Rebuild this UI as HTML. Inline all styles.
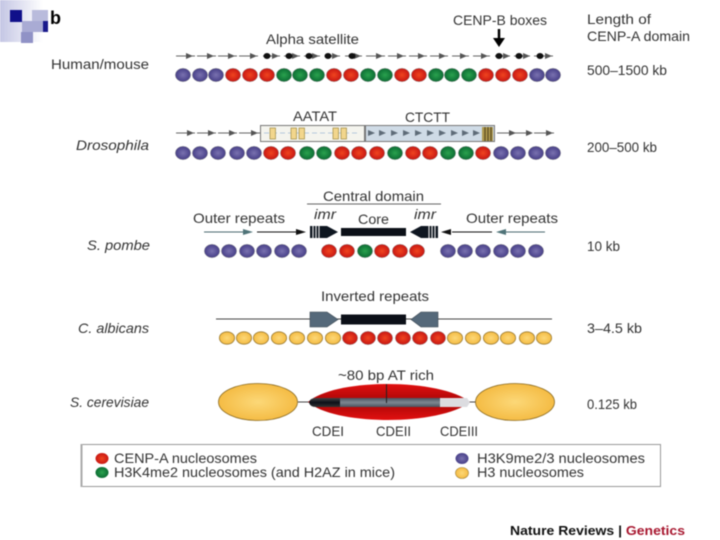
<!DOCTYPE html>
<html><head><meta charset="utf-8"><style>
html,body{margin:0;padding:0;background:#fff;width:720px;height:540px;overflow:hidden}
svg{display:block;filter:blur(.5px)}
text{font-family:"Liberation Sans",sans-serif;font-size:14px;fill:#333}
.i{font-style:italic}
.l{stroke:#666;stroke-width:1;fill:none}
.a{fill:#555}
</style></head><body>
<svg width="720" height="540" viewBox="0 0 720 540" xmlns="http://www.w3.org/2000/svg">
<defs>
<radialGradient id="P" cx=".5" cy=".5" r=".6"><stop offset="0" stop-color="#7a72b0"/><stop offset="1" stop-color="#3d3580"/></radialGradient>
<radialGradient id="R" cx=".5" cy=".5" r=".6"><stop offset="0" stop-color="#f0451f"/><stop offset="1" stop-color="#c00d10"/></radialGradient>
<radialGradient id="G" cx=".5" cy=".5" r=".6"><stop offset="0" stop-color="#2aa24e"/><stop offset="1" stop-color="#06622e"/></radialGradient>
<radialGradient id="Y" cx=".5" cy=".5" r=".6"><stop offset="0" stop-color="#fcd878"/><stop offset="1" stop-color="#f3b63a"/></radialGradient>
<linearGradient id="cor" x1="0" x2="1" y1="0" y2="0"><stop offset="0" stop-color="#c4c6e4"/><stop offset="1" stop-color="#fff"/></linearGradient>
<linearGradient id="red" x1="0" x2="0" y1="0" y2="1"><stop offset="0" stop-color="#e21010"/><stop offset=".5" stop-color="#a80606"/><stop offset="1" stop-color="#e21010"/></linearGradient>
<linearGradient id="bar" x1="0" x2="0" y1="0" y2="1"><stop offset="0" stop-color="#444"/><stop offset=".5" stop-color="#0c1018"/><stop offset="1" stop-color="#333"/></linearGradient>
<linearGradient id="gbar" x1="0" x2="0" y1="0" y2="1"><stop offset="0" stop-color="#4a5460"/><stop offset=".5" stop-color="#7e8792"/><stop offset="1" stop-color="#4a5460"/></linearGradient>
</defs>

<!-- corner decoration -->
<rect x="0" y="0" width="43" height="42" fill="url(#cor)"/>
<rect x="32" y="10" width="16" height="11" fill="#b9bbdc"/>
<rect x="22" y="21" width="21" height="11" fill="#a9abd4"/>
<rect x="43" y="21" width="5" height="11" fill="#1a1a8c"/>
<rect x="21" y="32" width="12" height="11" fill="#9092c6"/>
<rect x="10" y="10" width="12" height="12" fill="#10108a"/>
<text x="50" y="24" style="font-weight:bold;font-size:18px;fill:#000" textLength="11" lengthAdjust="spacingAndGlyphs">b</text>

<!-- left labels -->
<text x="51" y="69" textLength="98" lengthAdjust="spacingAndGlyphs">Human/mouse</text>
<text x="76" y="150" class="i" textLength="73" lengthAdjust="spacingAndGlyphs">Drosophila</text>
<text x="87" y="250" class="i" textLength="63" lengthAdjust="spacingAndGlyphs">S. pombe</text>
<text x="78" y="333" class="i" textLength="71" lengthAdjust="spacingAndGlyphs">C. albicans</text>
<text x="70" y="407" class="i" textLength="79" lengthAdjust="spacingAndGlyphs">S. cerevisiae</text>

<!-- right labels -->
<text x="587" y="24" textLength="64" lengthAdjust="spacingAndGlyphs">Length of</text>
<text x="587" y="41" textLength="103" lengthAdjust="spacingAndGlyphs">CENP-A domain</text>
<text x="587" y="75" textLength="80" lengthAdjust="spacingAndGlyphs">500–1500 kb</text>
<text x="587" y="152" textLength="70" lengthAdjust="spacingAndGlyphs">200–500 kb</text>
<text x="587" y="251" textLength="33" lengthAdjust="spacingAndGlyphs">10 kb</text>
<text x="587" y="333" textLength="55" lengthAdjust="spacingAndGlyphs">3–4.5 kb</text>
<text x="587" y="409" textLength="50" lengthAdjust="spacingAndGlyphs">0.125 kb</text>

<!-- row 1 -->
<text x="266" y="44" textLength="93" lengthAdjust="spacingAndGlyphs">Alpha satellite</text>
<text x="453" y="25" textLength="94" lengthAdjust="spacingAndGlyphs">CENP-B boxes</text>
<path d="M499 29V42" stroke="#000" stroke-width="2.5"/><path d="M493 38L499 47L505 38Z" fill="#000"/>
<g class="l">
<path d="M176 56H195M197 56H216M218 56H237M239 56H258M263 56H280M284 56H300M304 56H320M325 56H340M345 56H362M366 56H385M388 56H406M409 56H427M430 56H448M452 56H469M473 56H490M495 56H510M514 56H530M534 56H553" />
</g>
<g class="a">
<path d="M186 53L193 56L186 59ZM207 53L214 56L207 59ZM228 53L235 56L228 59ZM250 53L257 56L250 59ZM272 53L279 56L272 59ZM292 53L299 56L292 59ZM312 53L319 56L312 59ZM332 53L339 56L332 59ZM354 53L361 56L354 59ZM376 53L383 56L376 59ZM397 53L404 56L397 59ZM418 53L425 56L418 59ZM439 53L446 56L439 59ZM460 53L467 56L460 59ZM481 53L488 56L481 59ZM503 53L510 56L503 59ZM523 53L530 56L523 59ZM545 53L552 56L545 59Z"/>
</g>
<g fill="#111">
<ellipse cx="267" cy="56" rx="3.5" ry="3"/><ellipse cx="289" cy="56" rx="3.5" ry="3"/><ellipse cx="309" cy="56" rx="3.5" ry="3"/><ellipse cx="328" cy="56" rx="3.5" ry="3"/><ellipse cx="352" cy="56" rx="3.5" ry="3"/><ellipse cx="499" cy="56" rx="3.5" ry="3"/><ellipse cx="519" cy="56" rx="3.5" ry="3"/><ellipse cx="540" cy="56" rx="3.5" ry="3"/>
</g>
<g stroke="#777" stroke-width=".4">
<g fill="url(#P)"><ellipse cx="183" cy="75" rx="7.6" ry="6.6"/><ellipse cx="200" cy="75" rx="7.6" ry="6.6"/><ellipse cx="216" cy="75" rx="7.6" ry="6.6"/><ellipse cx="537" cy="75" rx="7.6" ry="6.6"/><ellipse cx="553" cy="75" rx="7.6" ry="6.6"/></g>
<g fill="url(#R)"><ellipse cx="233" cy="75" rx="7.6" ry="6.6"/><ellipse cx="250" cy="75" rx="7.6" ry="6.6"/><ellipse cx="267" cy="75" rx="7.6" ry="6.6"/><ellipse cx="334" cy="75" rx="7.6" ry="6.6"/><ellipse cx="351" cy="75" rx="7.6" ry="6.6"/><ellipse cx="402" cy="75" rx="7.6" ry="6.6"/><ellipse cx="419" cy="75" rx="7.6" ry="6.6"/><ellipse cx="486" cy="75" rx="7.6" ry="6.6"/><ellipse cx="503" cy="75" rx="7.6" ry="6.6"/><ellipse cx="520" cy="75" rx="7.6" ry="6.6"/></g>
<g fill="url(#G)"><ellipse cx="284" cy="75" rx="7.6" ry="6.6"/><ellipse cx="300" cy="75" rx="7.6" ry="6.6"/><ellipse cx="317" cy="75" rx="7.6" ry="6.6"/><ellipse cx="368" cy="75" rx="7.6" ry="6.6"/><ellipse cx="385" cy="75" rx="7.6" ry="6.6"/><ellipse cx="436" cy="75" rx="7.6" ry="6.6"/><ellipse cx="452" cy="75" rx="7.6" ry="6.6"/><ellipse cx="469" cy="75" rx="7.6" ry="6.6"/></g>
</g>

<!-- row 2 -->
<text x="293" y="121" textLength="44" lengthAdjust="spacingAndGlyphs">AATAT</text>
<text x="405" y="122" textLength="45" lengthAdjust="spacingAndGlyphs">CTCTT</text>
<path class="l" d="M176 133H195M197 133H216M218 133H237M239 133H260M497 133H510M514 133H530M534 133H554"/>
<path class="a" d="M187 130L194 133L187 136ZM208 130L215 133L208 136ZM229 130L236 133L229 136ZM251 130L258 133L251 136ZM509 130L516 133L509 136ZM526 130L533 133L526 136ZM546 130L553 133L546 136Z"/>
<rect x="260.500" y="125.500" width="104" height="16" fill="#f4f4ee" stroke="#777"/>
<rect x="365.500" y="125.500" width="129" height="16" fill="#cfdbe6" stroke="#777"/>
<path d="M264 133H360" stroke="#b5c9dc" stroke-width="1" stroke-dasharray="5 3"/>
<g fill="#f2d68c" stroke="#a08a40" stroke-width=".7">
<rect x="270" y="128" width="5.500" height="11"/><rect x="291" y="128" width="5.500" height="11"/><rect x="299" y="128" width="5.500" height="11"/><rect x="333" y="128" width="5.500" height="11"/><rect x="341" y="128" width="5.500" height="11"/>
</g>
<path fill="#5f6c78" d="M368 130l7 3l-7 3zM379 130l7 3l-7 3zM391 130l7 3l-7 3zM403 130l7 3l-7 3zM415 130l7 3l-7 3zM427 130l7 3l-7 3zM439 130l7 3l-7 3zM451 130l7 3l-7 3zM462 130l7 3l-7 3zM473 130l7 3l-7 3z"/>
<rect x="482" y="127" width="11" height="14" fill="#b09a50"/>
<path d="M485 127V141M488 127V141M491 127V141" stroke="#5a4a20" stroke-width="1.200"/>
<g stroke="#777" stroke-width=".4">
<g fill="url(#P)"><ellipse cx="183" cy="153" rx="7.6" ry="6.6"/><ellipse cx="200" cy="153" rx="7.6" ry="6.6"/><ellipse cx="218" cy="153" rx="7.6" ry="6.6"/><ellipse cx="237" cy="153" rx="7.6" ry="6.6"/><ellipse cx="254" cy="153" rx="7.6" ry="6.6"/><ellipse cx="501" cy="153" rx="7.6" ry="6.6"/><ellipse cx="518" cy="153" rx="7.6" ry="6.6"/><ellipse cx="536" cy="153" rx="7.6" ry="6.6"/><ellipse cx="553" cy="153" rx="7.6" ry="6.6"/></g>
<g fill="url(#R)"><ellipse cx="271" cy="153" rx="7.6" ry="6.6"/><ellipse cx="288" cy="153" rx="7.6" ry="6.6"/><ellipse cx="342" cy="153" rx="7.6" ry="6.6"/><ellipse cx="359" cy="153" rx="7.6" ry="6.6"/><ellipse cx="377" cy="153" rx="7.6" ry="6.6"/><ellipse cx="413" cy="153" rx="7.6" ry="6.6"/><ellipse cx="430" cy="153" rx="7.6" ry="6.6"/><ellipse cx="483" cy="153" rx="7.6" ry="6.6"/></g>
<g fill="url(#G)"><ellipse cx="307" cy="153" rx="7.6" ry="6.6"/><ellipse cx="324" cy="153" rx="7.6" ry="6.6"/><ellipse cx="395" cy="153" rx="7.6" ry="6.6"/><ellipse cx="448" cy="153" rx="7.6" ry="6.6"/><ellipse cx="466" cy="153" rx="7.6" ry="6.6"/></g>
</g>

<!-- row 3 -->
<text x="323" y="201" textLength="101" lengthAdjust="spacingAndGlyphs">Central domain</text>
<path d="M307 204H441" fill="none" stroke="#666"/>
<text x="314" y="219" class="i" textLength="22" lengthAdjust="spacingAndGlyphs">imr</text>
<text x="414" y="219" class="i" textLength="22" lengthAdjust="spacingAndGlyphs">imr</text>
<text x="358" y="224" textLength="31" lengthAdjust="spacingAndGlyphs">Core</text>
<text x="193" y="223" textLength="92" lengthAdjust="spacingAndGlyphs">Outer repeats</text>
<text x="466" y="223" textLength="92" lengthAdjust="spacingAndGlyphs">Outer repeats</text>
<path d="M204 232H244" stroke="#4a6a70" stroke-width="1"/><path d="M243 229L253 232L243 235Z" fill="#4f7378"/>
<path d="M257 232H300" stroke="#111" stroke-width="1"/><path d="M296 229L306 232L296 235Z" fill="#111"/>
<path d="M492 232H452" stroke="#111" stroke-width="1"/><path d="M451 229L441 232L451 235Z" fill="#111"/>
<path d="M545 232H505" stroke="#4a6a70" stroke-width="1"/><path d="M506 229L496 232L506 235Z" fill="#4f7378"/>
<path d="M310 226H327L338 232L327 238H310Z" fill="#0e1620"/>
<path d="M313 226V238M316 226V238M319 226V238" stroke="#ddd" stroke-width="1.200"/>
<path d="M438 226H421L410 232L421 238H438Z" fill="#0e1620"/>
<path d="M429 226V238M432 226V238M435 226V238" stroke="#ddd" stroke-width="1.200"/>
<rect x="341" y="228" width="65" height="8" fill="#0c1018"/>
<g stroke="#777" stroke-width=".4">
<g fill="url(#P)"><ellipse cx="212" cy="251" rx="7.6" ry="6.6"/><ellipse cx="229" cy="251" rx="7.6" ry="6.6"/><ellipse cx="247" cy="251" rx="7.6" ry="6.6"/><ellipse cx="264" cy="251" rx="7.6" ry="6.6"/><ellipse cx="282" cy="251" rx="7.6" ry="6.6"/><ellipse cx="299" cy="251" rx="7.6" ry="6.6"/><ellipse cx="448" cy="251" rx="7.6" ry="6.6"/><ellipse cx="465" cy="251" rx="7.6" ry="6.6"/><ellipse cx="483" cy="251" rx="7.6" ry="6.6"/><ellipse cx="501" cy="251" rx="7.6" ry="6.6"/><ellipse cx="518" cy="251" rx="7.6" ry="6.6"/><ellipse cx="536" cy="251" rx="7.6" ry="6.6"/></g>
<g fill="url(#R)"><ellipse cx="329" cy="251" rx="7.6" ry="6.6"/><ellipse cx="347" cy="251" rx="7.6" ry="6.6"/><ellipse cx="382" cy="251" rx="7.6" ry="6.6"/><ellipse cx="400" cy="251" rx="7.6" ry="6.6"/><ellipse cx="417" cy="251" rx="7.6" ry="6.6"/></g>
<ellipse cx="365" cy="251" rx="7.6" ry="6.6" fill="url(#G)"/>
</g>

<!-- row 4 -->
<text x="321" y="301" textLength="108" lengthAdjust="spacingAndGlyphs">Inverted repeats</text>
<path d="M216 319H552" stroke="#444" stroke-width="1"/>
<path d="M310 312H327L338 319.500L327 327H310Z" fill="#55697a" stroke="#3a4650" stroke-width=".6"/>
<path d="M438 312H421L411 319.500L421 327H438Z" fill="#55697a" stroke="#3a4650" stroke-width=".6"/>
<rect x="341" y="314.500" width="65" height="10" fill="#0c1018"/>
<g stroke="#9a7a30" stroke-width=".8">
<g fill="url(#Y)"><ellipse cx="227" cy="338" rx="7.6" ry="6.2"/><ellipse cx="244" cy="338" rx="7.6" ry="6.2"/><ellipse cx="261" cy="338" rx="7.6" ry="6.2"/><ellipse cx="279" cy="338" rx="7.6" ry="6.2"/><ellipse cx="297" cy="338" rx="7.6" ry="6.2"/><ellipse cx="315" cy="338" rx="7.6" ry="6.2"/><ellipse cx="333" cy="338" rx="7.6" ry="6.2"/><ellipse cx="455" cy="338" rx="7.6" ry="6.2"/><ellipse cx="473" cy="338" rx="7.6" ry="6.2"/><ellipse cx="491" cy="338" rx="7.6" ry="6.2"/><ellipse cx="508" cy="338" rx="7.6" ry="6.2"/><ellipse cx="527" cy="338" rx="7.6" ry="6.2"/><ellipse cx="544" cy="338" rx="7.6" ry="6.2"/></g>
</g>
<g fill="url(#R)" stroke="#777" stroke-width=".4"><ellipse cx="350" cy="338" rx="7.6" ry="6.6"/><ellipse cx="368" cy="338" rx="7.6" ry="6.6"/><ellipse cx="385" cy="338" rx="7.6" ry="6.6"/><ellipse cx="403" cy="338" rx="7.6" ry="6.6"/><ellipse cx="420" cy="338" rx="7.6" ry="6.6"/><ellipse cx="438" cy="338" rx="7.6" ry="6.6"/></g>

<!-- row 5 -->
<text x="338" y="380" textLength="96" lengthAdjust="spacingAndGlyphs">~80 bp AT rich</text>
<path d="M298 402H310M468 402H476" stroke="#444"/>
<ellipse cx="258" cy="402" rx="39.500" ry="18.500" fill="url(#Y)" stroke="#8a6a20" stroke-width=".8"/>
<ellipse cx="515" cy="402" rx="39.500" ry="18.500" fill="url(#Y)" stroke="#8a6a20" stroke-width=".8"/>
<path d="M308 402C335 378 440 378 470 402C440 426 335 426 308 402Z" fill="url(#red)"/>
<path d="M309 402.500Q310 398 316 398H340V407H316Q310 407 309 402.500Z" fill="url(#bar)"/>
<rect x="340" y="398" width="100" height="9" fill="url(#gbar)"/>
<path d="M440 398H467L470 402.500L467 407H440Z" fill="#dcdce0"/>
<path d="M386.500 384V403" stroke="#222"/>

<text x="312" y="436" textLength="32" lengthAdjust="spacingAndGlyphs">CDEI</text>
<text x="376" y="436" textLength="35" lengthAdjust="spacingAndGlyphs">CDEII</text>
<text x="440" y="436" textLength="38" lengthAdjust="spacingAndGlyphs">CDEIII</text>

<!-- legend -->
<path d="M81.500 486.500H660.500V444.500H81.500Z" fill="#fff" stroke="#999"/>
<path d="M81.500 444V487" stroke="#aaa" stroke-width="2"/>
<ellipse cx="102" cy="458.500" rx="6.500" ry="5.500" fill="url(#R)"/>
<ellipse cx="102" cy="472.500" rx="6.500" ry="5.500" fill="url(#G)"/>
<ellipse cx="462" cy="458.500" rx="6.500" ry="5.500" fill="url(#P)"/>
<ellipse cx="462" cy="473" rx="6.500" ry="5.500" fill="url(#Y)" stroke="#9a7a30" stroke-width=".6"/>
<text x="114" y="463" textLength="143" lengthAdjust="spacingAndGlyphs">CENP-A nucleosomes</text>
<text x="114" y="477" textLength="281" lengthAdjust="spacingAndGlyphs">H3K4me2 nucleosomes (and H2AZ in mice)</text>
<text x="477" y="463" textLength="168" lengthAdjust="spacingAndGlyphs">H3K9me2/3 nucleosomes</text>
<text x="477" y="477" textLength="107" lengthAdjust="spacingAndGlyphs">H3 nucleosomes</text>

<!-- credit -->
<text x="510" y="535" style="font-weight:bold;font-size:13px;fill:#111" textLength="175" lengthAdjust="spacingAndGlyphs">Nature Reviews | <tspan style="fill:#a81830">Genetics</tspan></text>
</svg>
</body></html>
